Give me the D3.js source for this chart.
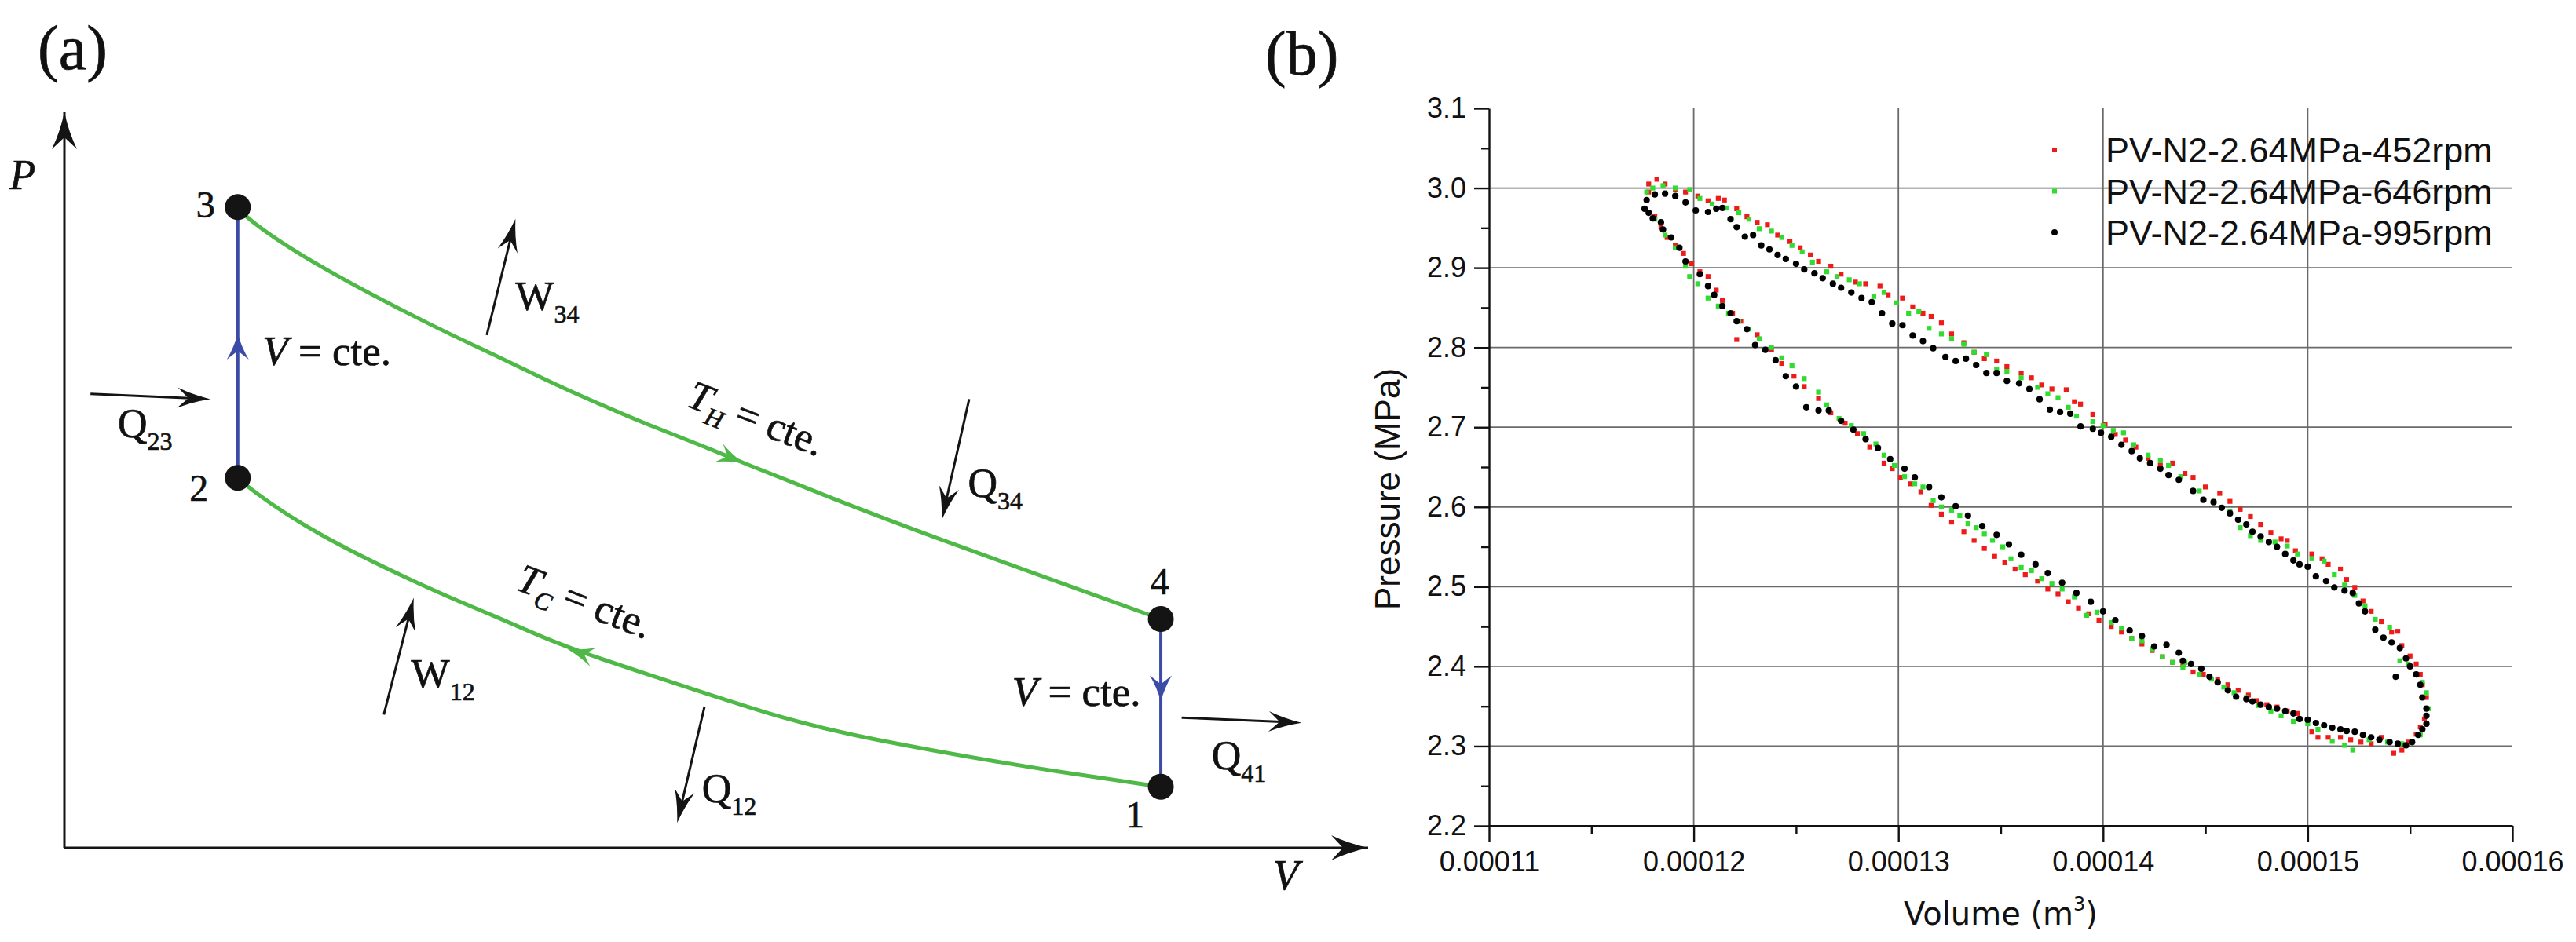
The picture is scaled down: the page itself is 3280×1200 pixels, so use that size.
<!DOCTYPE html>
<html>
<head>
<meta charset="utf-8">
<script src="https://cdn.jsdelivr.net/npm/d3@7"></script>
<style>
  body { margin: 0; background: #fff; }
  svg { display: block; }
  .serif { font-family: "Liberation Serif", "Times New Roman", serif; fill: #111; stroke: #111; stroke-width: 0.7px; }
  .sans { font-family: "Liberation Sans", Arial, sans-serif; fill: #111; }
</style>
</head>
<body>
<svg id="fig" width="3280" height="1200"></svg>
<script>
// ---------- panel (a): ideal Stirling cycle, schematic units (0..10 on both axes)
const statePoints = [
  {id: "1", v: 8.41, p: 0.83, lv: 8.14, lp: 0.28},
  {id: "2", v: 1.33, p: 5.03, lv: 0.96, lp: 4.72},
  {id: "3", v: 1.33, p: 8.71, lv: 1.01, lp: 8.57},
  {id: "4", v: 8.41, p: 3.11, lv: 8.33, lp: 3.45}
];
// T_H isotherm 3 -> 4
const hotIsotherm = [[1.33,8.71],[1.40,8.55],[1.89,7.95],[2.88,7.04],[3.28,6.72],[3.68,6.37],[4.08,6.05],
  [4.49,5.74],[4.89,5.47],[5.21,5.23],[5.89,4.75],[6.61,4.26],[7.68,3.58],[8.41,3.11]];
// T_C isotherm 1 -> 2
const coldIsotherm = [[1.33,5.03],[1.40,4.91],[1.89,4.29],[2.88,3.45],[3.28,3.17],[3.68,2.85],[4.01,2.63],
  [4.49,2.35],[5.44,1.79],[6.04,1.53],[6.61,1.34],[7.37,1.10],[8.41,0.83]];
const isochores = [[[1.33,5.03],[1.33,8.71]], [[8.41,3.11],[8.41,0.83]]];
// heat / work arrows: tail -> head
const energyArrows = [
  {from: [0.20,6.17], to: [1.12,6.10]},
  {from: [3.24,6.97], to: [3.46,8.55]},
  {from: [6.94,6.10], to: [6.73,4.46]},
  {from: [2.45,1.81], to: [2.68,3.40]},
  {from: [4.91,1.92], to: [4.70,0.34]},
  {from: [8.57,1.77], to: [9.49,1.70]}
];
const energyLabels = [
  {main: "Q", sub: "23", v: 0.41, p: 5.58},
  {main: "W", sub: "34", v: 3.46, p: 7.31},
  {main: "Q", sub: "34", v: 6.93, p: 4.77},
  {main: "W", sub: "12", v: 2.66, p: 2.18},
  {main: "Q", sub: "12", v: 4.89, p: 0.62},
  {main: "Q", sub: "41", v: 8.80, p: 1.07}
];
// direction marks on the process lines
const processArrows = [
  {from: [4.89,5.47], to: [5.21,5.23], kind: "green"},
  {from: [4.49,2.35], to: [3.86,2.70], kind: "green"},
  {from: [1.33,6.50], to: [1.33,6.99], kind: "blue"},
  {from: [8.41,2.50], to: [8.41,1.99], kind: "blue"}
];
const isochoreLabels = [{v: 1.52, p: 6.56}, {v: 7.27, p: 1.93}];
const isothermLabels = [{sub: "H", v: 4.76, p: 6.01}, {sub: "C", v: 3.45, p: 3.52}];

// ---------- panel (b): measured PV loops (volume in 1e-4 m^3, pressure in MPa)
const xTicks = [0.00011, 0.00012, 0.00013, 0.00014, 0.00015, 0.00016];
const xMinor = [0.000115, 0.000125, 0.000135, 0.000145, 0.000155];
const yTicks = [2.2, 2.3, 2.4, 2.5, 2.6, 2.7, 2.8, 2.9, 3.0, 3.1];
const yMinor = [2.25, 2.35, 2.45, 2.55, 2.65, 2.75, 2.85, 2.95, 3.05];
const seriesNames = ["PV-N2-2.64MPa-452rpm", "PV-N2-2.64MPa-646rpm", "PV-N2-2.64MPa-995rpm"];
const seriesColors = ["#ee1b1b", "#2fdc2f", "#000000"];

const rpm452 = [[1.178,3.005],[1.182,3.011],[1.186,3.005],[1.191,2.998],[1.196,2.995],[1.202,2.990],[1.207,2.984],
  [1.212,2.987],[1.215,2.985],[1.221,2.974],[1.226,2.964],[1.231,2.957],[1.236,2.954],[1.241,2.941],[1.247,2.933],
  [1.252,2.925],[1.257,2.916],[1.261,2.908],[1.267,2.902],[1.272,2.892],[1.279,2.882],[1.284,2.880],[1.291,2.877],
  [1.295,2.866],[1.302,2.862],[1.307,2.851],[1.312,2.843],[1.316,2.839],[1.321,2.831],[1.326,2.817],[1.332,2.806],
  [1.337,2.794],[1.342,2.786],[1.348,2.783],[1.353,2.776],[1.360,2.768],[1.365,2.762],[1.370,2.753],[1.375,2.748],
  [1.382,2.747],[1.386,2.732],[1.389,2.729],[1.395,2.716],[1.401,2.704],[1.406,2.691],[1.411,2.684],[1.416,2.675],
  [1.422,2.661],[1.428,2.652],[1.434,2.655],[1.440,2.642],[1.444,2.637],[1.450,2.625],[1.457,2.617],[1.462,2.607],
  [1.467,2.597],[1.472,2.588],[1.477,2.578],[1.482,2.568],[1.487,2.560],[1.490,2.558],[1.494,2.545],[1.502,2.541],
  [1.507,2.535],[1.510,2.528],[1.516,2.522],[1.519,2.509],[1.523,2.499],[1.527,2.482],[1.531,2.469],[1.536,2.456],
  [1.541,2.443],[1.544,2.444],[1.546,2.426],[1.550,2.413],[1.553,2.403],[1.555,2.390],[1.556,2.377],[1.558,2.361],
  [1.558,2.347],[1.557,2.334],[1.555,2.324],[1.553,2.315],[1.549,2.305],[1.546,2.295],[1.542,2.291],
  [1.536,2.311],[1.531,2.303],[1.526,2.305],[1.521,2.308],[1.516,2.311],[1.510,2.311],[1.505,2.311],[1.502,2.318],
  [1.495,2.341],[1.490,2.344],[1.485,2.349],[1.480,2.352],[1.475,2.357],[1.471,2.364],[1.466,2.370],[1.461,2.377],
  [1.456,2.384],[1.449,2.390],[1.444,2.393],[1.439,2.402],[1.434,2.405],[1.429,2.412],[1.424,2.420],[1.419,2.428],
  [1.414,2.435],[1.409,2.443],[1.404,2.450],[1.398,2.458],[1.393,2.466],[1.388,2.473],[1.383,2.481],[1.378,2.491],
  [1.373,2.497],[1.368,2.507],[1.362,2.515],[1.357,2.522],[1.352,2.530],[1.347,2.538],[1.342,2.548],[1.337,2.558],
  [1.332,2.569],[1.326,2.581],[1.321,2.591],[1.316,2.602],[1.311,2.619],[1.306,2.629],[1.301,2.637],[1.297,2.648],
  [1.293,2.655],[1.286,2.675],[1.280,2.692],[1.274,2.705],[1.267,2.718],[1.261,2.736],[1.254,2.751],[1.249,2.764],
  [1.243,2.780],[1.238,2.797],[1.231,2.816],[1.223,2.833],[1.221,2.810],[1.219,2.843],[1.214,2.859],[1.211,2.872],
  [1.207,2.889],[1.203,2.895],[1.199,2.905],[1.195,2.918],[1.191,2.928],[1.187,2.938],[1.184,2.951],[1.181,2.964],
  [1.178,2.995]];

const rpm646 = [[1.177,2.995],[1.180,3.000],[1.185,3.003],[1.191,3.000],[1.198,2.998],[1.203,2.987],[1.209,2.980],
  [1.216,2.975],[1.222,2.969],[1.227,2.961],[1.232,2.949],[1.238,2.946],[1.243,2.938],[1.248,2.928],[1.253,2.920],
  [1.258,2.907],[1.265,2.895],[1.270,2.889],[1.276,2.885],[1.281,2.880],[1.288,2.864],[1.293,2.869],[1.299,2.856],
  [1.305,2.843],[1.310,2.845],[1.315,2.824],[1.321,2.817],[1.326,2.811],[1.332,2.804],[1.337,2.794],[1.343,2.791],
  [1.348,2.773],[1.353,2.770],[1.360,2.762],[1.368,2.750],[1.373,2.742],[1.378,2.737],[1.383,2.725],[1.387,2.714],
  [1.395,2.707],[1.400,2.702],[1.405,2.696],[1.410,2.693],[1.415,2.678],[1.422,2.665],[1.428,2.658],[1.432,2.652],
  [1.438,2.638],[1.447,2.620],[1.454,2.607],[1.462,2.594],[1.467,2.574],[1.472,2.564],[1.477,2.558],[1.484,2.556],
  [1.490,2.551],[1.495,2.541],[1.502,2.535],[1.508,2.532],[1.513,2.515],[1.518,2.502],[1.523,2.489],[1.528,2.476],
  [1.533,2.459],[1.540,2.449],[1.545,2.407],[1.549,2.403],[1.553,2.390],[1.556,2.380],[1.558,2.367],[1.559,2.347],
  [1.558,2.328],[1.555,2.314],[1.551,2.305],
  [1.546,2.303],[1.539,2.305],[1.530,2.308],[1.522,2.295],[1.518,2.301],[1.512,2.306],[1.505,2.321],[1.500,2.328],
  [1.493,2.331],[1.487,2.338],[1.482,2.344],[1.476,2.351],[1.470,2.361],[1.464,2.367],[1.459,2.374],[1.453,2.384],
  [1.447,2.390],[1.440,2.405],[1.439,2.399],[1.434,2.405],[1.429,2.412],[1.424,2.422],[1.419,2.432],[1.414,2.435],
  [1.409,2.448],[1.404,2.455],[1.397,2.468],[1.392,2.464],[1.386,2.487],[1.380,2.497],[1.375,2.504],[1.370,2.510],
  [1.365,2.520],[1.360,2.524],[1.355,2.535],[1.351,2.550],[1.346,2.558],[1.342,2.566],[1.338,2.574],[1.334,2.579],
  [1.330,2.589],[1.326,2.596],[1.321,2.600],[1.317,2.608],[1.312,2.625],[1.308,2.629],[1.303,2.638],[1.298,2.652],
  [1.293,2.665],[1.289,2.679],[1.283,2.692],[1.277,2.702],[1.271,2.711],[1.265,2.728],[1.261,2.744],[1.254,2.761],
  [1.248,2.777],[1.243,2.787],[1.238,2.800],[1.232,2.811],[1.227,2.823],[1.222,2.833],[1.217,2.843],[1.212,2.852],
  [1.207,2.862],[1.202,2.880],[1.198,2.889],[1.196,2.902],[1.191,2.925],[1.186,2.941],[1.181,2.961]];

const rpm995 = [[1.176,2.974],[1.177,2.985],[1.181,2.992],[1.186,2.993],[1.191,2.990],[1.196,2.982],[1.201,2.972],
  [1.207,2.970],[1.211,2.974],[1.214,2.975],[1.218,2.961],[1.221,2.951],[1.225,2.939],[1.229,2.941],[1.233,2.928],
  [1.237,2.923],[1.241,2.916],[1.245,2.911],[1.250,2.905],[1.254,2.898],[1.259,2.893],[1.263,2.887],[1.268,2.880],
  [1.272,2.875],[1.277,2.869],[1.282,2.862],[1.287,2.857],[1.292,2.843],[1.297,2.830],[1.302,2.828],[1.307,2.815],
  [1.312,2.808],[1.317,2.799],[1.323,2.788],[1.328,2.783],[1.333,2.786],[1.338,2.778],[1.343,2.768],[1.348,2.768],
  [1.353,2.758],[1.359,2.755],[1.364,2.748],[1.369,2.735],[1.374,2.722],[1.379,2.719],[1.384,2.717],[1.389,2.701],
  [1.395,2.698],[1.399,2.693],[1.404,2.688],[1.409,2.678],[1.414,2.670],[1.418,2.661],[1.423,2.655],[1.428,2.648],
  [1.432,2.640],[1.437,2.634],[1.444,2.620],[1.449,2.609],[1.454,2.606],[1.458,2.599],[1.462,2.592],[1.466,2.584],
  [1.470,2.578],[1.473,2.569],[1.477,2.563],[1.481,2.556],[1.485,2.550],[1.489,2.541],[1.493,2.533],[1.496,2.528],
  [1.500,2.525],[1.504,2.513],[1.509,2.507],[1.513,2.499],[1.518,2.495],[1.522,2.492],[1.525,2.479],[1.528,2.469],
  [1.533,2.446],[1.537,2.436],[1.541,2.430],[1.545,2.423],[1.548,2.410],[1.550,2.400],[1.553,2.390],[1.555,2.377],
  [1.556,2.361],[1.558,2.347],[1.558,2.338],[1.558,2.328],[1.556,2.321],[1.554,2.314],[1.551,2.305],[1.543,2.387],
  [1.548,2.301],[1.544,2.303],[1.540,2.305],[1.535,2.308],[1.531,2.311],[1.527,2.314],[1.523,2.318],[1.519,2.319],
  [1.516,2.321],[1.512,2.323],[1.508,2.326],[1.504,2.329],[1.500,2.333],[1.496,2.334],[1.493,2.341],[1.489,2.344],
  [1.485,2.347],[1.481,2.349],[1.477,2.352],[1.473,2.356],[1.470,2.359],[1.465,2.362],[1.461,2.370],[1.456,2.380],
  [1.452,2.387],[1.448,2.397],[1.443,2.403],[1.439,2.407],[1.437,2.417],[1.431,2.427],[1.425,2.425],[1.419,2.438],
  [1.413,2.445],[1.406,2.458],[1.400,2.469],[1.394,2.481],[1.387,2.492],[1.380,2.505],[1.373,2.517],[1.367,2.528],
  [1.360,2.540],[1.354,2.553],[1.348,2.565],[1.341,2.576],[1.334,2.589],[1.328,2.601],[1.321,2.612],[1.315,2.625],
  [1.308,2.637],[1.303,2.648],[1.296,2.660],[1.290,2.674],[1.284,2.685],[1.278,2.697],[1.272,2.708],[1.266,2.721],
  [1.261,2.721],[1.255,2.725],[1.250,2.751],[1.245,2.764],[1.240,2.784],[1.235,2.797],[1.230,2.803],[1.226,2.823],
  [1.221,2.833],[1.218,2.843],[1.214,2.852],[1.210,2.866],[1.207,2.877],[1.203,2.892],[1.196,2.908],[1.193,2.925],
  [1.189,2.938],[1.185,2.948],[1.184,2.957],[1.180,2.962],[1.178,2.969]];

const series = [rpm452, rpm646, rpm995];

const svg = d3.select("#fig");
const GREEN = "#4fb947", BLUE = "#3c4ba6", INK = "#141414";

// arrow head drawn at a tip, pointing away from "from"
function head(g, tip, from, len, wid, notch, color) {
  const a = Math.atan2(tip[1] - from[1], tip[0] - from[0]) * 180 / Math.PI;
  g.append("path")
    .attr("d", `M0,0 Q${-0.55*len},${-0.18*wid} ${-len},${-wid/2} L${-notch},0 L${-len},${wid/2} Q${-0.55*len},${0.18*wid} 0,0 Z`)
    .attr("fill", color)
    .attr("transform", `translate(${tip[0]},${tip[1]}) rotate(${a})`);
}

// ===================== panel (a)
const ax = d3.scaleLinear().domain([0, 10]).range([82, 1742]);
const ay = d3.scaleLinear().domain([0, 10]).range([1080, 143]);
const ga = svg.append("g");
const pt = d => [ax(d[0]), ay(d[1])];

ga.append("text").attr("class", "serif").attr("x", 48).attr("y", 88)
  .attr("font-size", 80).text("(a)");

// axes with arrow heads
[[[0, 0], [0, 10]], [[0, 0], [10, 0]]].forEach(s => {
  const a = pt(s[0]), b = pt(s[1]);
  ga.append("line").attr("x1", a[0]).attr("y1", a[1]).attr("x2", b[0]).attr("y2", b[1])
    .attr("stroke", INK).attr("stroke-width", 3);
  head(ga, b, a, 47, 32, 32, INK);
});
ga.append("text").attr("class", "serif").attr("font-style", "italic").attr("font-size", 54)
  .attr("x", ax(-0.42)).attr("y", ay(8.95)).text("P");
ga.append("text").attr("class", "serif").attr("font-style", "italic").attr("font-size", 54)
  .attr("x", ax(9.27)).attr("y", ay(-0.57)).text("V");

const curve = d3.line().x(d => ax(d[0])).y(d => ay(d[1])).curve(d3.curveBasis);
[hotIsotherm, coldIsotherm].forEach(c => {
  ga.append("path").attr("d", curve(c)).attr("fill", "none")
    .attr("stroke", GREEN).attr("stroke-width", 5);
});
isochores.forEach(c => {
  ga.append("path").attr("d", d3.line().x(d => ax(d[0])).y(d => ay(d[1]))(c))
    .attr("fill", "none").attr("stroke", BLUE).attr("stroke-width", 4);
});
processArrows.forEach(d => {
  if (d.kind === "green") head(ga, pt(d.to), pt(d.from), 34, 25, 22, GREEN);
  else head(ga, pt(d.to), pt(d.from), 33, 28, 22, BLUE);
});

ga.selectAll("circle.state").data(statePoints).enter().append("circle")
  .attr("cx", d => ax(d.v)).attr("cy", d => ay(d.p)).attr("r", 16.5).attr("fill", INK);
ga.selectAll("text.state").data(statePoints).enter().append("text")
  .attr("class", "serif").attr("font-size", 48)
  .attr("x", d => ax(d.lv)).attr("y", d => ay(d.lp)).text(d => d.id);

energyArrows.forEach(d => {
  const a = pt(d.from), b = pt(d.to);
  const L = Math.hypot(b[0] - a[0], b[1] - a[1]);
  const k = (L - 26) / L;
  ga.append("line").attr("x1", a[0]).attr("y1", a[1])
    .attr("x2", a[0] + (b[0] - a[0]) * k).attr("y2", a[1] + (b[1] - a[1]) * k)
    .attr("stroke", INK).attr("stroke-width", 3);
  head(ga, b, a, 42, 26, 28, INK);
});
energyLabels.forEach(d => {
  const t = ga.append("text").attr("class", "serif").attr("font-size", 52)
    .attr("x", ax(d.v)).attr("y", ay(d.p));
  t.append("tspan").text(d.main);
  t.append("tspan").attr("font-size", 32).attr("dy", 16).text(d.sub);
});
isochoreLabels.forEach(d => {
  const t = ga.append("text").attr("class", "serif").attr("font-size", 53)
    .attr("x", ax(d.v)).attr("y", ay(d.p));
  t.append("tspan").attr("font-style", "italic").text("V");
  t.append("tspan").text(" = cte.");
});
isothermLabels.forEach(d => {
  const t = ga.append("text").attr("class", "serif").attr("font-size", 52)
    .attr("transform", `translate(${ax(d.v)},${ay(d.p)}) rotate(21)`);
  t.append("tspan").attr("font-style", "italic").text("T");
  t.append("tspan").attr("font-style", "italic").attr("font-size", 32).attr("dy", 12).text(d.sub);
  t.append("tspan").attr("dy", -12).text(" = cte.");
});

// ===================== panel (b)
const bx = d3.scaleLinear().domain([0.00011, 0.00016]).range([1896, 3199]);
const by = d3.scaleLinear().domain([2.2, 3.1]).range([1052, 138]);
const gb = svg.append("g");

gb.append("text").attr("class", "serif").attr("x", 1611).attr("y", 95)
  .attr("font-size", 80).text("(b)");

// grid
gb.selectAll("line.vg").data(xTicks.slice(1, -1)).enter().append("line")
  .attr("x1", d => bx(d)).attr("x2", d => bx(d)).attr("y1", by(2.2)).attr("y2", by(3.1))
  .attr("stroke", "#6a6a6a").attr("stroke-width", 1.8);
gb.selectAll("line.hg").data(yTicks.slice(1, -1)).enter().append("line")
  .attr("x1", bx(0.00011)).attr("x2", bx(0.00016)).attr("y1", d => by(d)).attr("y2", d => by(d))
  .attr("stroke", "#6a6a6a").attr("stroke-width", 1.8);

// data dots
series.forEach((s, i) => {
  const g = gb.append("g").attr("fill", seriesColors[i]);
  if (i < 2) {
    g.selectAll("rect").data(s).enter().append("rect")
      .attr("x", d => bx(d[0] * 1e-4) - 3.1).attr("y", d => by(d[1]) - 3.1)
      .attr("width", 6.2).attr("height", 6.2);
  } else {
    g.selectAll("circle").data(s).enter().append("circle")
      .attr("cx", d => bx(d[0] * 1e-4)).attr("cy", d => by(d[1])).attr("r", 4.1);
  }
});

// axes
const xAxis = gb.append("g").attr("transform", `translate(0,${by(2.2)})`)
  .call(d3.axisBottom(bx).tickValues(xTicks).tickSize(20).tickSizeOuter(0).tickPadding(12)
    .tickFormat(d3.format(".5f")));
gb.append("g").attr("transform", `translate(0,${by(2.2)})`)
  .call(d3.axisBottom(bx).tickValues(xMinor).tickSize(10).tickFormat(""))
  .call(g => g.select(".domain").remove());
const yAxis = gb.append("g").attr("transform", `translate(${bx(0.00011)},0)`)
  .call(d3.axisLeft(by).tickValues(yTicks).tickSize(19).tickSizeOuter(0).tickPadding(10)
    .tickFormat(d3.format(".1f")));
gb.append("g").attr("transform", `translate(${bx(0.00011)},0)`)
  .call(d3.axisLeft(by).tickValues(yMinor).tickSize(10).tickFormat(""))
  .call(g => g.select(".domain").remove());

gb.selectAll(".tick line").attr("stroke", "#111").attr("stroke-width", 2.4);
xAxis.select(".domain").attr("stroke", "#111").attr("stroke-width", 3.2);
yAxis.select(".domain").attr("stroke", "#111").attr("stroke-width", 2.4);
gb.selectAll(".tick text").attr("font-family", '"Liberation Sans", Arial, sans-serif')
  .attr("font-size", 36).attr("fill", "#111");

// axis titles
const xt = gb.append("text").attr("x", bx(0.000135)).attr("y", 1178).attr("text-anchor", "middle")
  .attr("font-family", '"DejaVu Sans", sans-serif').attr("font-size", 40).attr("fill", "#111");
xt.append("tspan").text("Volume (m");
xt.append("tspan").attr("font-size", 24).attr("dy", -18).text("3");
xt.append("tspan").attr("dy", 18).text(")");
gb.append("text").attr("class", "sans").attr("font-size", 44).attr("text-anchor", "middle")
  .attr("transform", "translate(1782,623) rotate(-90)").text("Pressure (MPa)");

// legend
const leg = gb.append("g");
seriesNames.forEach((name, i) => {
  const yc = 191 + i * 52.5;
  if (i < 2) {
    leg.append("rect").attr("x", 2613).attr("y", yc - 3).attr("width", 6).attr("height", 6)
      .attr("fill", seriesColors[i]);
  } else {
    leg.append("circle").attr("cx", 2616).attr("cy", yc).attr("r", 4).attr("fill", seriesColors[i]);
  }
  leg.append("text").attr("class", "sans").attr("font-size", 45).attr("x", 2681).attr("y", yc + 16)
    .text(name);
});
</script>
</body>
</html>
